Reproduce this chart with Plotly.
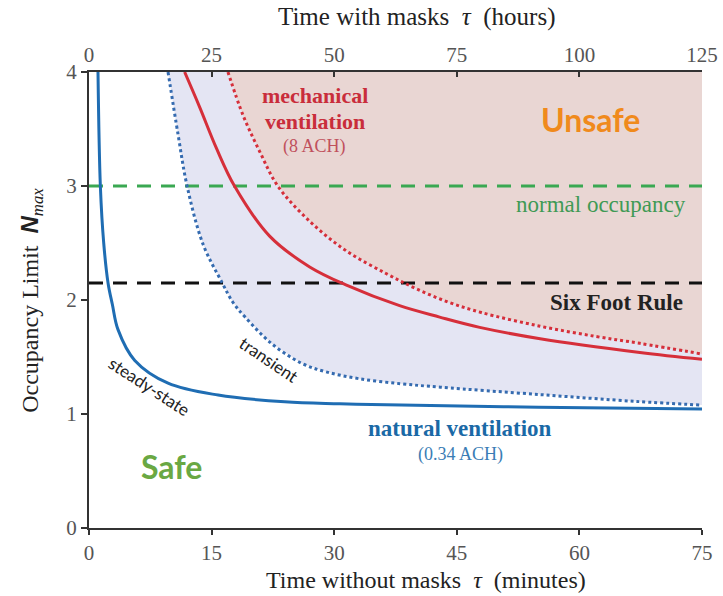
import plotly.graph_objects as go

# ---- data (x: minutes without masks, y: N_max) ----
steady_x = [1.10, 1.39, 1.8, 2.33, 2.86, 3.55, 5.6, 9.67, 15.8, 23.95, 30.7, 38.2, 55.0, 75.0]
steady_y = [4.00, 3.00, 2.50, 2.15, 1.96, 1.74, 1.47, 1.27, 1.166, 1.107, 1.09, 1.078, 1.06, 1.043]

trans_x = [9.67, 10.9, 12.0, 13.95, 16.3, 17.6, 19.1, 22.3, 26.0, 29.0, 33.0, 38.2, 43.0, 55.2, 67.0, 75.0]
trans_y = [4.00, 3.45, 3.00, 2.49, 2.15, 1.98, 1.85, 1.62, 1.445, 1.37, 1.31, 1.265, 1.235, 1.17, 1.11, 1.078]

mech_x = [11.7, 13.55, 15.6, 17.8, 22.1, 27.0, 31.5, 38.0, 42.9, 47.8, 55.2, 67.4, 75.0]
mech_y = [4.00, 3.69, 3.33, 3.00, 2.56, 2.29, 2.13, 1.95, 1.85, 1.76, 1.66, 1.54, 1.48]

mech_tr_x = [17.0, 18.85, 20.9, 23.1, 27.0, 31.5, 36.4, 40.0, 44.0, 48.0, 55.2, 62.0, 67.4, 75.0]
mech_tr_y = [4.00, 3.62, 3.30, 3.00, 2.69, 2.43, 2.23, 2.10, 1.98, 1.89, 1.77, 1.68, 1.62, 1.526]

normal_occupancy = 3.0
six_foot_rule = 2.15

x_min, x_max = 0, 75
x_hours_max = 125
y_min, y_max = 0, 4
bottom_ticks = [0, 15, 30, 45, 60, 75]
top_ticks = [0, 25, 50, 75, 100, 125]
y_ticks = [0, 1, 2, 3, 4]

SERIF = "Liberation Serif"
SANS = "Lato"
BLUE = "#1f6db3"
BLUE_DOT = "#356bb0"
RED = "#d62f3a"
GREEN = "#3aa852"
LAVENDER = "#e4e5f3"
PINK = "#e9d6d3"

fig = go.Figure()

# shaded regions
fig.add_trace(go.Scatter(x=trans_x + [x_max], y=trans_y + [y_max], fill="toself",
                         fillcolor=LAVENDER, mode="lines", line=dict(width=0),
                         hoverinfo="skip", showlegend=False))
fig.add_trace(go.Scatter(x=mech_tr_x + [x_max], y=mech_tr_y + [y_max], fill="toself",
                         fillcolor=PINK, mode="lines", line=dict(width=0),
                         hoverinfo="skip", showlegend=False))

# reference lines
fig.add_trace(go.Scatter(x=[x_min, x_max], y=[normal_occupancy] * 2, mode="lines",
                         line=dict(color=GREEN, width=3, dash="14px,10px"),
                         hoverinfo="skip", showlegend=False))
fig.add_trace(go.Scatter(x=[x_min, x_max], y=[six_foot_rule] * 2, mode="lines",
                         line=dict(color="#111111", width=3, dash="14px,10px"),
                         hoverinfo="skip", showlegend=False))

# curves
fig.add_trace(go.Scatter(x=trans_x, y=trans_y, mode="lines",
                         line=dict(color=BLUE_DOT, width=3, dash="dot", shape="spline", smoothing=1.0),
                         showlegend=False))
fig.add_trace(go.Scatter(x=mech_tr_x, y=mech_tr_y, mode="lines",
                         line=dict(color=RED, width=3, dash="dot", shape="spline", smoothing=1.0),
                         showlegend=False))
fig.add_trace(go.Scatter(x=mech_x, y=mech_y, mode="lines",
                         line=dict(color=RED, width=3, shape="spline", smoothing=1.0),
                         showlegend=False))
fig.add_trace(go.Scatter(x=steady_x, y=steady_y, mode="lines",
                         line=dict(color=BLUE, width=3, shape="spline", smoothing=1.0),
                         showlegend=False))

# invisible trace to activate the top (hours) axis
fig.add_trace(go.Scatter(x=[0, x_hours_max], y=[0, 0], xaxis="x2", mode="lines",
                         line=dict(width=0), opacity=0, hoverinfo="skip", showlegend=False))

def ann(text, x, y, size, color, family=SERIF, angle=0, xref="x", yref="y"):
    fig.add_annotation(text=text, x=x, y=y, xref=xref, yref=yref, showarrow=False,
                       font=dict(family=family, size=size, color=color),
                       textangle=angle, xanchor="center", yanchor="middle")

ann("<b>mechanical</b>", 27.6, 3.79, 22, "#c92d3b")
ann("<b>ventilation</b>", 27.6, 3.565, 22, "#c92d3b")
ann("(8 ACH)", 27.6, 3.35, 18, "#c0505c")
ann("<b>Unsafe</b>", 61.4, 3.58, 32, "#f08a1c", family=SANS)
ann("normal occupancy", 62.6, 2.835, 23, "#3f9a55")
ann("<b>Six Foot Rule</b>", 64.5, 1.975, 23, "#222222")
ann("<b>natural ventilation</b>", 45.4, 0.876, 23, "#1a69a6")
ann("(0.34 ACH)", 45.4, 0.648, 18, "#3a7db5")
ann("<b>Safe</b>", 10.1, 0.536, 32, "#6aa843", family=SANS)
ann("steady-state", 7.4, 1.24, 17, "#222222", family=SANS, angle=33)
ann("transient", 22.0, 1.48, 17, "#222222", family=SANS, angle=34)

# axis titles
ann("Time without masks  <i>τ</i>  (minutes)", 0.55, -0.114, 24, "#222222",
    xref="paper", yref="paper")
ann("Time with masks  <i>τ</i>  (hours)", 0.535, 1.121, 25, "#222222",
    xref="paper", yref="paper")
ann("Occupancy Limit  <span style='font-family:Liberation Sans'><b><i>N</i></b></span>"
    "<sub><i>max</i></sub>", -0.095, 0.5, 24, "#222222", angle=-90,
    xref="paper", yref="paper")

axis_common = dict(showgrid=False, zeroline=False, showline=True, linecolor="#333333",
                   linewidth=2, tickcolor="#333333", tickwidth=2, automargin=False,
                   tickfont=dict(family=SERIF, size=21, color="#555555"))

fig.update_layout(
    width=723, height=596,
    margin=dict(l=89, r=21, t=72, b=68, autoexpand=False),
    paper_bgcolor="white", plot_bgcolor="white",
    xaxis=dict(range=[x_min, x_max], tickvals=bottom_ticks, ticks="outside", ticklen=5,
               **axis_common),
    xaxis2=dict(range=[0, x_hours_max], tickvals=top_ticks, overlaying="x", side="top",
                ticks="inside", ticklen=5, **axis_common),
    yaxis=dict(range=[y_min, y_max], tickvals=y_ticks, ticks="outside", ticklen=6,
               **axis_common),
)

fig.write_html("out.html", config={"displayModeBar": False},
               post_script="document.body.style.margin='0';")
